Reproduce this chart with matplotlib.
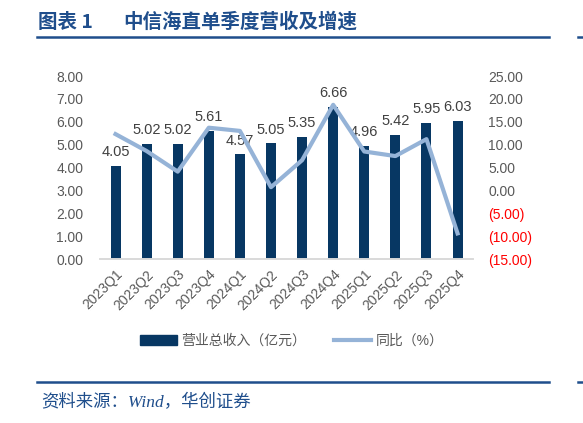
import matplotlib
matplotlib.use('Agg')
import matplotlib.pyplot as plt
from matplotlib.lines import Line2D
from matplotlib.patches import Patch
import numpy as np

plt.rcParams['font.family'] = ['Liberation Sans', 'Noto Sans CJK SC']

# données
quarters = ['2023Q1', '2023Q2', '2023Q3', '2023Q4', '2024Q1', '2024Q2',
            '2024Q3', '2024Q4', '2025Q1', '2025Q2', '2025Q3', '2025Q4']
revenue = [4.05, 5.02, 5.02, 5.61, 4.57, 5.05, 5.35, 6.66, 4.96, 5.42, 5.95, 6.03]
yoy = [12.3, 8.6, 4.1, 13.7, 13.0, 0.7, 6.6, 18.7, 8.5, 7.5, 11.2, -9.4]
left_ticks = [0, 1, 2, 3, 4, 5, 6, 7, 8]
right_ticks = [-15, -10, -5, 0, 5, 10, 15, 20, 25]

bar_color = '#073763'
line_color = '#95B3D7'
gray = '#595959'
navy = '#1F4E8C'

fig = plt.figure(figsize=(5.83, 4.23), dpi=100)
ax = fig.add_axes([0.1715, 0.3877, 0.64, 0.4326])
ax2 = ax.twinx()

x = np.arange(len(quarters))
bars = ax.bar(x, revenue, width=0.32, color=bar_color, zorder=2)
for xi, v in zip(x, revenue):
    ax.annotate(f'{v:.2f}', (xi, v), xytext=(0, 5), textcoords='offset points',
                ha='center', va='bottom', fontsize=10.5, color='#404040')

ax2.plot(x, yoy, color=line_color, lw=3, zorder=3)

ax.set_xlim(-0.5, len(quarters) - 0.5)
ax.set_ylim(0, 8)
ax2.set_ylim(-15, 25)
ax.set_yticks(left_ticks)
ax.set_yticklabels([f'{t:.2f}' for t in left_ticks])
ax2.set_yticks(right_ticks)
ax2.set_yticklabels([f'({abs(t):.2f})' if t < 0 else f'{t:.2f}' for t in right_ticks])
for lbl, t in zip(ax2.get_yticklabels(), right_ticks):
    lbl.set_color('red' if t < 0 else gray)

ax.set_xticks(x)
ax.set_xticklabels(quarters, rotation=45, ha='right', rotation_mode='anchor')
ax.tick_params(axis='x', length=0, colors=gray, labelsize=10, pad=6)
ax.tick_params(axis='y', length=0, colors=gray, labelsize=10, pad=12)
ax2.tick_params(axis='y', length=0, labelsize=10, pad=11)

for a in (ax, ax2):
    for s in ('top', 'left', 'right'):
        a.spines[s].set_visible(False)
    a.spines['bottom'].set_color('#D9D9D9')
    a.spines['bottom'].set_linewidth(1.2)
ax.set_zorder(ax2.get_zorder() - 1)
ax.patch.set_visible(False)

# légende
handles = [Patch(color=bar_color), Line2D([0], [0], color=line_color, lw=3)]
fig.legend(handles, ['营业总收入（亿元）', '同比（%）'], loc='center',
           bbox_to_anchor=(0.5, 1 - 341 / 423), ncol=2, frameon=False,
           fontsize=10, labelcolor=gray, handlelength=2.7, handletextpad=0.3,
           columnspacing=2.0)

# titre et source
fig.text(38 / 583, 1 - 22 / 423, '图表 1', fontsize=14, fontweight='bold',
         color=navy, va='center', family=['Noto Sans CJK SC'])
fig.text(123 / 583, 1 - 22 / 423, '中信海直单季度营收及增速', fontsize=14,
         fontweight='bold', color=navy, va='center', family=['Noto Sans CJK SC'])
fig.add_artist(Line2D([37 / 583, 549 / 583], [1 - 37 / 423] * 2,
                      color=navy, lw=1.8))
fig.add_artist(Line2D([37 / 583, 549 / 583], [1 - 382 / 423] * 2,
                      color=navy, lw=1.8))
fig.add_artist(Line2D([578 / 583, 1.0], [1 - 37 / 423] * 2, color=navy, lw=1.8))
fig.add_artist(Line2D([578 / 583, 1.0], [1 - 382 / 423] * 2, color=navy, lw=1.8))
fig.text(41 / 583, 1 - 403 / 423, '资料来源：Wind，华创证券', fontsize=12.5,
         style='italic', color=navy, va='center',
         family=['Liberation Serif', 'Noto Sans CJK SC'])

fig.savefig('out.png', dpi=100)
